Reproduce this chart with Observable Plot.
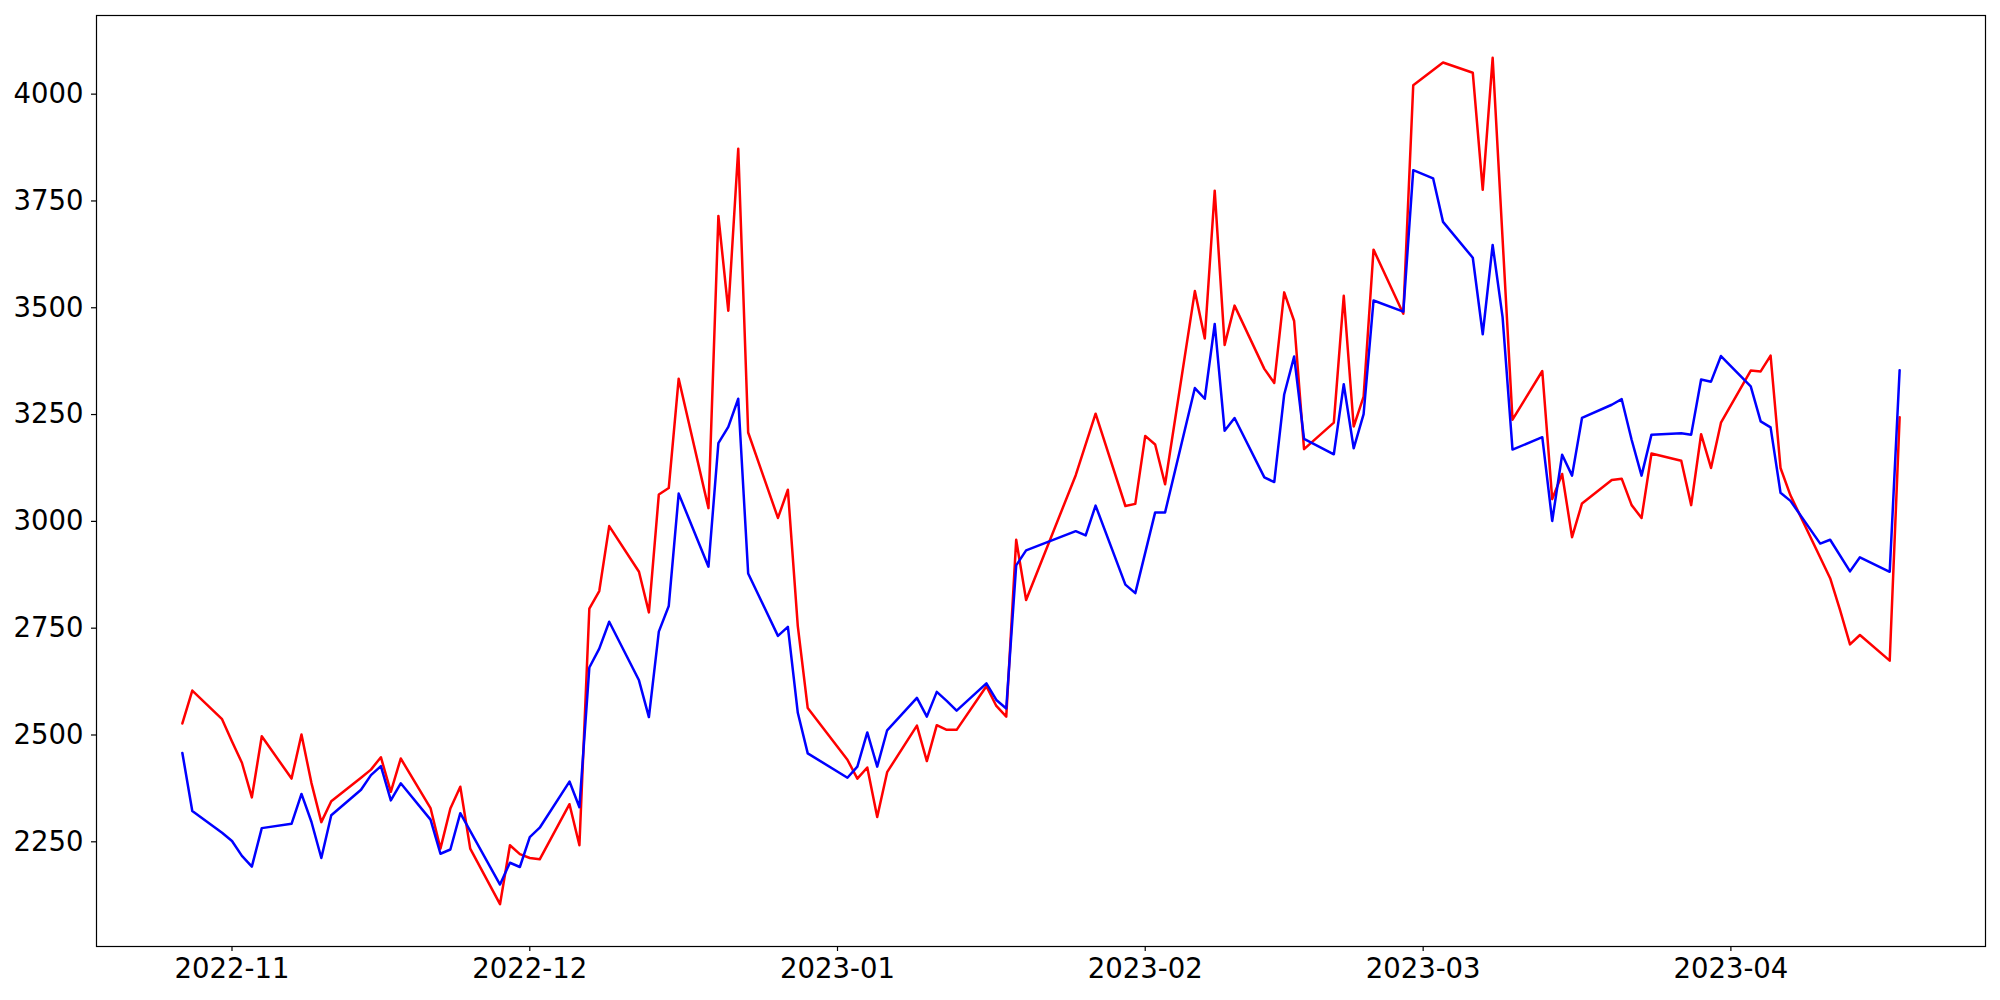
<!DOCTYPE html>
<html>
<head>
<meta charset="utf-8">
<script src="https://cdn.jsdelivr.net/npm/d3@7"></script>
<script src="https://cdn.jsdelivr.net/npm/@observablehq/plot@0.6"></script>
<style>
  html, body { margin: 0; padding: 0; background: #ffffff; }
  #chart { width: 2000px; height: 1000px; }
</style>
</head>
<body>
<div id="chart"></div>
<script>
// ---- data ----
const dates = [
  "2022-10-27","2022-10-28","2022-10-31","2022-11-01","2022-11-02","2022-11-03","2022-11-04",
  "2022-11-07","2022-11-08","2022-11-09","2022-11-10","2022-11-11",
  "2022-11-14","2022-11-15","2022-11-16","2022-11-17","2022-11-18",
  "2022-11-21","2022-11-22","2022-11-23","2022-11-24","2022-11-25",
  "2022-11-28","2022-11-29","2022-11-30","2022-12-01","2022-12-02",
  "2022-12-05","2022-12-06","2022-12-07","2022-12-08","2022-12-09",
  "2022-12-12","2022-12-13","2022-12-14","2022-12-15","2022-12-16",
  "2022-12-19","2022-12-20","2022-12-21","2022-12-22","2022-12-23",
  "2022-12-26","2022-12-27","2022-12-28","2022-12-29",
  "2023-01-02","2023-01-03","2023-01-04","2023-01-05","2023-01-06",
  "2023-01-09","2023-01-10","2023-01-11","2023-01-12","2023-01-13",
  "2023-01-16","2023-01-17","2023-01-18","2023-01-19","2023-01-20",
  "2023-01-25","2023-01-26","2023-01-27",
  "2023-01-30","2023-01-31","2023-02-01","2023-02-02","2023-02-03",
  "2023-02-06","2023-02-07","2023-02-08","2023-02-09","2023-02-10",
  "2023-02-13","2023-02-14","2023-02-15","2023-02-16","2023-02-17",
  "2023-02-20","2023-02-21","2023-02-22","2023-02-23","2023-02-24",
  "2023-02-27","2023-02-28","2023-03-02","2023-03-03",
  "2023-03-06","2023-03-07","2023-03-08","2023-03-09","2023-03-10",
  "2023-03-13","2023-03-14","2023-03-15","2023-03-16","2023-03-17",
  "2023-03-20","2023-03-21","2023-03-22","2023-03-23","2023-03-24",
  "2023-03-27","2023-03-28","2023-03-29","2023-03-30","2023-03-31",
  "2023-04-03","2023-04-04","2023-04-05","2023-04-06","2023-04-07",
  "2023-04-10","2023-04-11","2023-04-12","2023-04-13","2023-04-14",
  "2023-04-17","2023-04-18"
];

const redValues = [
  2527,2604,2537,2485,2435,2354,2497,
  2398,2501,2388,2296,2345,
  2400,2419,2448,2367,2445,
  2329,2234,2328,2379,2234,
  2104,2242,2221,2212,2209,
  2338,2242,2796,2837,2989,
  2882,2787,3063,3078,3334,
  3031,3715,3493,3872,3208,
  3008,3074,2755,2563,
  2442,2398,2424,2308,2413,
  2522,2439,2523,2512,2512,
  2614,2568,2543,2957,2816,
  3108,null,3252,
  3036,3041,3200,3180,3087,
  3539,3428,3774,3413,3505,
  3357,3324,3536,3469,3169,
  3231,3528,3222,3292,3636,
  3486,4021,null,4074,
  4050,3776,4085,null,3238,
  3352,3052,3111,2963,3042,
  3097,3100,3038,3008,3159,
  3142,3038,3204,3125,3231,
  3353,3351,3388,3125,3061,
  null,2867,2792,2712,2734,
  2674,3244
];

const blueValues = [
  2458,2322,2271,2252,2217,2192,2282,
  2292,2362,2297,2212,2312,
  2372,2406,2427,2347,2387,
  2302,2222,2232,2317,null,
  2150,2201,2191,2261,2283,
  2391,2331,2658,2702,2765,
  2628,2542,2742,2802,3065,
  2894,3183,3221,3287,2878,
  2732,2753,2552,2457,
  2400,2426,2506,2426,2511,
  2587,2543,2601,2580,2557,
  2621,2582,2562,2897,2932,
  2977,2967,3037,
  2852,2832,null,3021,3021,
  3312,3287,3462,3212,3242,
  3103,3092,3297,3386,3193,
  3157,3321,3171,3251,3517,
  3491,3822,3803,3701,
  3617,3438,3647,3478,3168,
  3197,3001,3156,3107,3242,
  3273,3286,3191,3107,3203,
  3206,3203,3332,3327,3387,
  3316,3234,3220,3067,3048,
  2948,2957,null,2883,2916,
  2882,3354
];

const xTickLabels = ["2022-11","2022-12","2023-01","2023-02","2023-03","2023-04"];
const yTicks = [2250, 2500, 2750, 3000, 3250, 3500, 3750, 4000];

// ---- build table ----
const rows = dates.map((d, i) => ({
  date: new Date(d + "T00:00:00Z"),
  red: redValues[i],
  blue: blueValues[i]
}));
const redRows = rows.filter(r => r.red != null);
const blueRows = rows.filter(r => r.blue != null);

// matplotlib-like 5% margins
const [t0, t1] = d3.extent(rows, r => r.date);
const tPad = (t1 - t0) * 0.05;
const xDomain = [new Date(+t0 - tPad), new Date(+t1 + tPad)];
const allVals = redValues.concat(blueValues).filter(v => v != null);
const [v0, v1] = d3.extent(allVals);
const vPad = (v1 - v0) * 0.05;
const yDomain = [v0 - vPad, v1 + vPad];

const xTicks = xTickLabels.map(s => new Date(s + "-01T00:00:00Z"));

const chart = Plot.plot({
  width: 2000,
  height: 1000,
  marginLeft: 96,
  marginRight: 15,
  marginTop: 15,
  marginBottom: 54,
  style: {
    fontFamily: "'DejaVu Sans', sans-serif",
    fontSize: "27.5px",
    background: "#ffffff",
    color: "#000000",
    overflow: "visible"
  },
  x: { type: "utc", domain: xDomain },
  y: { domain: yDomain },
  marks: [
    Plot.line(redRows, { x: "date", y: "red", stroke: "#ff0000", strokeWidth: 2.5 }),
    Plot.line(blueRows, { x: "date", y: "blue", stroke: "#0000ff", strokeWidth: 2.5 }),
    Plot.frame({ stroke: "#000000", strokeWidth: 1.2 }),
    Plot.axisX({
      ticks: xTicks,
      tickFormat: d3.utcFormat("%Y-%m"),
      tickSize: 5,
      tickPadding: 7,
      label: null,
      strokeWidth: 1.2
    }),
    Plot.axisY({
      ticks: yTicks,
      tickFormat: d => String(d),
      tickSize: 5,
      tickPadding: 8,
      label: null,
      strokeWidth: 1.2
    })
  ]
});

document.getElementById("chart").appendChild(chart);
</script>
</body>
</html>
